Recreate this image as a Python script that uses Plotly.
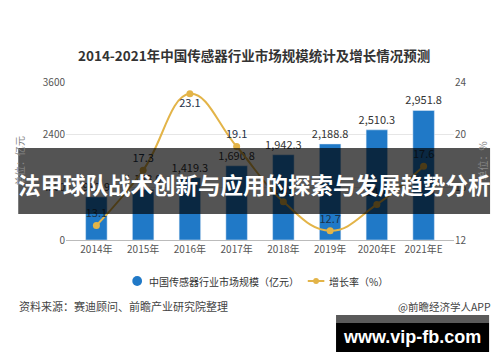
import plotly.graph_objects as go

years = ["2014年", "2015年", "2016年", "2017年", "2018年", "2019年", "2020年E", "2021年E"]
market_size = [982.9, 1153.0, 1419.3, 1690.8, 1942.3, 2188.8, 2510.3, 2951.8]
growth = [13.1, 17.3, 23.1, 19.1, 14.9, 12.7, 14.7, 17.6]
growth_pos = ["top center", "top center", "bottom center", "top center",
              "top center", "top center", "top center", "top center"]
bar_name = "中国传感器行业市场规模（亿元）"
line_name = "增长率（%）"

FONT = "Noto Sans CJK SC"
OFF = 8  # page body margin offset
W, H = 500 - OFF, 362 - OFF
PLOT_L, PLOT_R, PLOT_T, PLOT_B = 57, 455, 82, 240  # absolute page pixels
ML = PLOT_L - OFF
MT = PLOT_T - OFF
MR = W - (PLOT_R - OFF)
MB = H - (PLOT_B - OFF)
PW, PH = W - ML - MR, H - MT - MB
BLUE = "#2079c7"
GOLD = "#e3b448"

def px(x):
    return (x - OFF - ML) / PW

def py(y):
    return (H - MB - (y - OFF)) / PH

fig = go.Figure()
fig.add_trace(go.Bar(
    x=years, y=market_size, name=bar_name,
    marker=dict(color=BLUE),
    text=[f"{v:,.1f}" for v in market_size], textposition="outside",
    constraintext="none",
    textfont=dict(size=11, color="#333333", family=FONT),
    cliponaxis=False, showlegend=False,
))
fig.add_trace(go.Scatter(
    x=years, y=growth, name=line_name, yaxis="y2",
    mode="lines+markers+text",
    line=dict(color=GOLD, width=2, shape="spline", smoothing=1.2),
    marker=dict(color=GOLD, size=7),
    text=[f"{v:.1f}" for v in growth], textposition=growth_pos,
    textfont=dict(size=11, color="#1d3147", family=FONT),
    cliponaxis=False, showlegend=False,
))

fig.update_layout(
    width=W, height=H,
    margin=dict(l=ML, r=MR, t=MT, b=MB),
    paper_bgcolor="white", plot_bgcolor="white",
    font=dict(family=FONT, color="#555555", size=10),
    bargap=0.54,
    showlegend=False,
    xaxis=dict(range=[-0.65, 7.65], showgrid=False, showline=True, linecolor="#bbbbbb",
               ticks="", tickfont=dict(size=10, color="#555555")),
    yaxis=dict(range=[0, 3600], dtick=1200, showgrid=True, gridcolor="#e6e6e6",
               zeroline=False, tickfont=dict(size=10, color="#555555"),
               title=dict(text="单位：亿元", font=dict(size=10, color="#888888"), standoff=16)),
    yaxis2=dict(range=[12, 24], dtick=4, overlaying="y", side="right", showgrid=False,
                zeroline=False, tickfont=dict(size=10, color="#555555"),
                title=dict(text="单位：%", font=dict(size=10, color="#888888"), standoff=14)),
)

fig.add_annotation(x=px(250), xref="paper", y=py(55), yref="paper",
                   text="<b>2014-2021年中国传感器行业市场规模统计及增长情况预测</b>",
                   showarrow=False, font=dict(size=13.5, color="#333333", family=FONT),
                   xanchor="center", yanchor="middle")

# legend (drawn manually)
fig.add_shape(type="circle", xref="paper", yref="paper",
              x0=px(125), x1=px(135), y0=py(286), y1=py(276),
              fillcolor=BLUE, line=dict(width=0))
fig.add_annotation(x=px(140), xref="paper", y=py(281), yref="paper", text=bar_name,
                   showarrow=False, font=dict(size=10, color="#333333", family=FONT),
                   xanchor="left", yanchor="middle")
fig.add_shape(type="line", xref="paper", yref="paper",
              x0=px(305), x1=px(322), y0=py(281), y1=py(281),
              line=dict(color=GOLD, width=2))
fig.add_shape(type="circle", xref="paper", yref="paper",
              x0=px(310.5), x1=px(316.5), y0=py(284), y1=py(278),
              fillcolor=GOLD, line=dict(width=0))
fig.add_annotation(x=px(325), xref="paper", y=py(281), yref="paper", text=line_name,
                   showarrow=False, font=dict(size=10, color="#333333", family=FONT),
                   xanchor="left", yanchor="middle")

fig.add_annotation(x=px(7), xref="paper", y=py(306), yref="paper",
                   text="资料来源：赛迪顾问、前瞻产业研究院整理",
                   showarrow=False, font=dict(size=11, color="#444444", family=FONT),
                   xanchor="left", yanchor="middle")
fig.add_annotation(x=px(495), xref="paper", y=py(306), yref="paper",
                   text="@前瞻经济学人APP",
                   showarrow=False, font=dict(size=10.5, color="#444444", family=FONT),
                   xanchor="right", yanchor="middle")

# overlay band
fig.add_shape(type="rect", xref="paper", yref="paper",
              x0=px(8), x1=px(492), y0=py(214), y1=py(148),
              fillcolor="rgba(0,0,0,0.67)", line=dict(width=0), layer="above")
fig.add_annotation(x=px(250), xref="paper", y=py(184), yref="paper",
                   text="<b>法甲球队战术创新与应用的探索与发展趋势分析</b>",
                   showarrow=False, font=dict(size=22.5, color="white", family=FONT),
                   xanchor="center", yanchor="middle")

# watermark box
fig.add_shape(type="rect", xref="paper", yref="paper",
              x0=px(334), x1=px(491), y0=py(323), y1=py(315),
              fillcolor="#5a5a5a", line=dict(width=0), layer="above")
fig.add_shape(type="rect", xref="paper", yref="paper",
              x0=px(334), x1=px(491), y0=py(352), y1=py(323),
              fillcolor="#000000", line=dict(width=0), layer="above")
fig.add_annotation(x=px(412), xref="paper", y=py(337), yref="paper",
                   text="<b>www.vip-fb.com</b>",
                   showarrow=False, font=dict(size=18, color="white", family="Liberation Sans"),
                   xanchor="center", yanchor="middle")

fig.write_html("out.html")
